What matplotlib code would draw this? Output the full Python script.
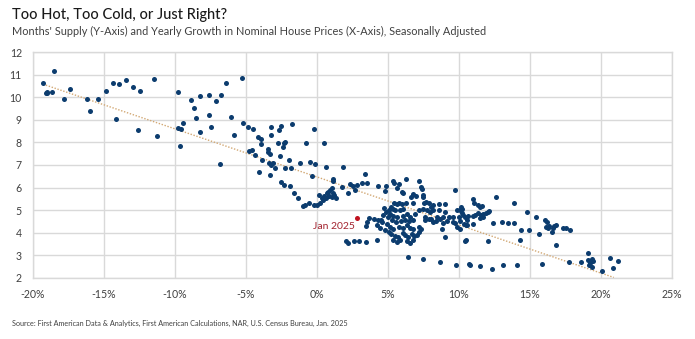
import matplotlib.pyplot as plt
import numpy as np

# Yearly growth in nominal house prices (%) and months' supply, one pair per month
growth = [
    -19.32, -19.04, -19.10, -18.98, -18.66, -18.55, -17.82, -17.37, -16.18, -15.99,
    -15.40, -14.84, -14.37, -14.15, -13.94, -13.47, -12.96, -12.49, -12.58, -11.48,
    -11.29, -9.81, -9.79, -9.58, -9.44, -9.65, -8.90, -8.66, -8.50, -8.24,
    -8.24, -7.63, -7.63, -7.44, -7.09, -6.76, -6.85, -6.39, -6.03, -5.87,
    -5.26,
    -5.23, -4.84, -4.53, -4.15, -3.92, -3.97, -3.22, -2.56, -2.70, -1.78,
    -3.26, -0.21, -2.75, -2.23, -2.35, -2.42, -0.77, 0.47, -4.60, -4.79,
    -4.39, -3.45, -3.43, -3.31, -3.87, -3.36, -3.10, -3.24, -2.96, -4.11,
    -3.33, -2.61, -1.95, -2.23, -1.85, -1.20, -0.49, -0.14, -0.35, -2.56,
    -2.30, -1.92, -1.64, -1.34, -1.01, -0.85, -0.56, -0.23, -0.02,
    0.21, 0.35, 0.52, 0.68, 0.80, 0.92, 1.06, 1.22, 1.34, 1.03,
    0.87, 0.16, 0.63, 1.15, 0.40,
    0.61, 1.85, 1.15, 1.10, 1.74, 2.21, 2.68, 2.32, 2.51, 2.84,
    3.17, 3.54, 3.38, 4.27, 4.86, 4.79,
    2.02, 2.16, 2.63, 2.98, 3.43, 4.25,
    3.64, 3.54, 3.43, 4.04, 4.48,
    4.70, 4.86, 5.07, 4.67, 4.98, 4.32, 4.55, 4.91, 4.23, 4.44,
    4.79, 5.07,
    5.33, 5.42, 5.75, 6.27, 7.16, 5.63, 5.98, 6.08, 7.35, 7.39,
    6.60, 6.78, 6.97, 7.44, 7.49, 9.74,
    5.42, 5.61, 5.80, 5.98, 6.27, 6.78, 7.53, 7.68, 7.91, 8.00,
    8.19, 8.61, 9.04, 10.12,
    5.19, 5.33, 5.52, 5.84, 6.03, 7.21, 7.44, 7.72, 7.96, 8.19,
    8.57, 9.04, 9.83, 10.19,
    5.14, 5.37, 5.66, 6.08, 6.36, 6.55, 6.92, 7.63, 7.86, 8.05,
    8.43, 8.66, 8.90, 9.27, 9.60, 9.98, 10.30,
    5.28, 5.56, 5.89, 6.17, 6.45, 6.74, 7.58, 8.14, 8.38, 8.90,
    9.18, 9.55, 9.74, 10.07, 10.35, 10.59,
    5.14, 5.37, 5.75, 6.08, 6.36, 6.55, 6.78, 7.16, 7.30, 8.80,
    9.83, 10.07,
    5.23, 5.47, 5.70, 6.03, 6.22, 6.41, 6.69, 6.83, 7.06, 7.21,
    5.37, 5.61, 5.84, 6.31, 6.55, 6.78, 9.04, 10.45,
    6.41, 7.44, 8.66, 9.79, 10.68,
    11.01, 11.08, 11.36, 11.48, 11.64, 12.60, 13.89, 14.81, 15.41,
    10.42, 10.54, 10.65, 10.47, 10.19, 10.07,
    11.01, 11.12, 11.36, 11.55, 11.71, 11.88, 12.02, 12.13, 11.48, 11.71,
    11.01, 12.37, 13.00, 13.42, 13.85, 14.34, 14.95, 15.66,
    16.05, 16.20, 16.13, 16.36, 16.60, 16.55, 16.25, 16.85, 16.69,
    17.35, 17.50, 17.82, 16.80,
    10.49, 12.06, 14.32,
    10.77, 11.50, 12.34, 13.13, 14.06, 15.82, 17.77, 18.59, 19.05, 19.11,
    19.23, 19.34, 19.46, 19.18, 19.34, 20.10, 20.63, 20.87, 21.20,
]
supply = [
    10.61, 10.20, 10.18, 10.22, 10.23, 11.17, 9.93, 10.38, 9.93, 9.38,
    9.91, 10.29, 10.63, 9.02, 10.57, 10.75, 10.47, 10.26, 8.55, 10.81,
    8.30, 10.23, 8.65, 8.58, 8.86, 7.84, 9.88, 9.52, 9.07, 10.07,
    8.46, 10.08, 9.20, 8.68, 9.83, 10.08, 7.06, 10.63, 9.11, 8.31,
    10.84,
    8.85, 8.67, 8.58, 8.23, 8.15, 7.92, 8.67, 8.74, 8.55, 8.81,
    8.34, 8.58, 7.96, 8.03, 7.99, 7.81, 7.96, 7.99, 7.65, 7.63,
    7.44, 7.72, 7.56, 7.49, 7.22, 7.08, 7.10, 7.00, 6.85, 6.69,
    6.57, 7.40, 7.21, 6.87, 6.85, 7.10, 7.13, 7.06, 6.53, 6.26,
    6.12, 6.07, 5.75, 5.55, 5.19, 5.24, 5.33, 5.22, 5.24,
    5.30, 5.52, 5.64, 5.75, 5.82, 5.89, 5.97, 5.66, 5.52, 5.60,
    5.64, 5.67, 5.53, 5.75, 5.45,
    6.90, 6.92, 6.36, 6.28, 6.04, 5.75, 5.91, 6.14, 6.07, 6.13,
    6.19, 6.20, 6.60, 6.08, 6.06, 5.84,
    3.65, 3.54, 3.65, 3.64, 3.58, 3.68,
    4.64, 4.49, 4.31, 4.60, 4.57,
    5.08, 4.94, 5.01, 4.79, 4.71, 4.57, 4.49, 4.39, 4.34, 4.20,
    4.12, 4.05,
    6.31, 6.22, 6.16, 6.37, 6.31, 6.00, 5.80, 5.76, 6.04, 5.95,
    5.57, 5.72, 5.63, 5.69, 5.57, 5.89,
    5.30, 5.27, 5.30, 5.27, 5.33, 5.30, 5.30, 5.36, 5.30, 5.16,
    5.24, 5.27, 5.27, 5.16,
    5.16, 5.07, 5.01, 5.01, 5.04, 5.01, 5.04, 5.01, 4.92, 5.01,
    5.01, 4.92, 5.01, 5.04,
    4.83, 4.74, 4.71, 4.74, 4.83, 4.71, 4.83, 4.68, 4.60, 4.62,
    4.71, 4.60, 4.68, 4.71, 4.71, 4.68, 4.77,
    4.57, 4.48, 4.51, 4.57, 4.54, 4.57, 4.57, 4.48, 4.51, 4.45,
    4.51, 4.48, 4.42, 4.51, 4.39, 4.33,
    4.27, 4.18, 4.27, 4.21, 4.33, 4.21, 4.18, 4.27, 4.18, 4.18,
    4.27, 4.18,
    3.95, 3.86, 3.80, 3.97, 3.89, 3.80, 3.95, 3.86, 3.89, 4.03,
    3.68, 3.59, 3.68, 3.65, 3.53, 3.68, 3.80, 3.65,
    2.91, 2.84, 2.69, 2.56, 2.62,
    5.48, 5.33, 5.24, 5.16, 5.20, 5.60, 5.30, 4.93, 4.70,
    4.71, 4.57, 4.74, 4.35, 4.86, 5.00,
    4.76, 4.80, 4.86, 4.79, 4.83, 4.89, 4.93, 4.98, 4.64, 4.68,
    4.39, 4.45, 4.49, 4.42, 4.42, 4.12, 4.12, 3.95,
    4.57, 4.47, 4.27, 4.31, 4.22, 4.05, 4.20, 4.35, 4.30,
    4.22, 4.22, 4.12, 3.46,
    3.68, 3.64, 3.68,
    2.57, 2.51, 2.41, 2.56, 2.57, 2.64, 2.72, 2.71, 3.09, 2.78,
    2.68, 2.83, 2.77, 2.58, 2.47, 2.31, 2.90, 2.46, 2.75,
]

# Latest reading
latest_label = "Jan 2025"
latest_growth = 2.79
latest_supply = 4.64

# Linear trend across the whole sample
trend_slope = -0.2128
trend_intercept = 6.47
trend_range = [-19.3, 20.9]

x_ticks = [-20, -15, -10, -5, 0, 5, 10, 15, 20, 25]
y_ticks = [2, 3, 4, 5, 6, 7, 8, 9, 10, 11, 12]

navy = '#0c3c6e'
grid_grey = '#d9d9d9'
text_grey = '#404040'

plt.rcParams['font.family'] = ['Lato', 'DejaVu Sans']

fig = plt.figure(figsize=(6.95, 3.39), dpi=100)
ax = fig.add_axes([0.0475, 0.18, 0.9195, 0.6666])

# Trend line
tx = np.array(trend_range)
ax.plot(tx, trend_slope * tx + trend_intercept, linestyle=(0, (1, 1.2)),
        color='#d2a874', linewidth=1.0, zorder=2)

# Monthly observations
ax.scatter(growth, supply, s=13, color=navy, linewidths=0, zorder=3)

# Latest month highlighted
ax.scatter([latest_growth], [latest_supply], s=13, color='#c0121f', linewidths=0, zorder=4)
ax.annotate(latest_label, (latest_growth, latest_supply), xytext=(-1.5, -6.2),
            textcoords='offset points', ha='right', va='center',
            fontsize=7.5, color='#a3232f')

ax.set_xlim(-20, 25)
ax.set_ylim(2, 12)
ax.set_xticks(x_ticks)
ax.set_xticklabels([f'{t}%' for t in x_ticks])
ax.set_yticks(y_ticks)
ax.set_yticklabels([str(t) for t in y_ticks])
ax.tick_params(axis='both', length=0, labelsize=7.6, colors=text_grey)
ax.tick_params(axis='x', pad=8)
ax.tick_params(axis='y', pad=8)
ax.grid(True, color=grid_grey, linewidth=1.0)
ax.set_axisbelow(True)
for spine in ax.spines.values():
    spine.set_color(grid_grey)
    spine.set_linewidth(1.0)

fig.text(0.017, 0.957, "Too Hot, Too Cold, or Just Right?", fontsize=10.5,
         fontweight='medium', color='#1a1a1a', ha='left', va='center')
fig.text(0.017, 0.906, "Months' Supply (Y-Axis) and Yearly Growth in Nominal House Prices (X-Axis), Seasonally Adjusted",
         fontsize=7.9, color=text_grey, ha='left', va='center')
fig.text(0.017, 0.047, "Source: First American Data & Analytics, First American Calculations, NAR, U.S. Census Bureau, Jan. 2025",
         fontsize=5.2, color=text_grey, ha='left', va='center')

fig.savefig('out.png', dpi=100)
